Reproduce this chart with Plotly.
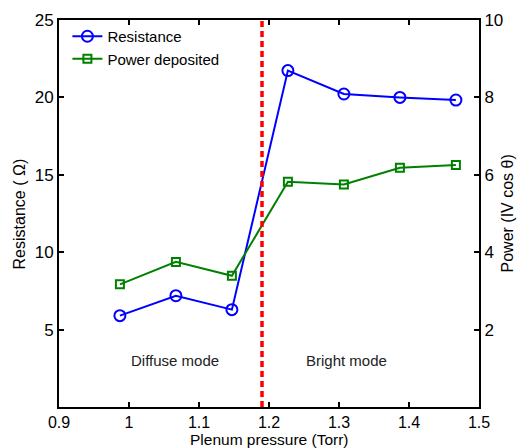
import plotly.graph_objects as go

pressure = [0.987, 1.067, 1.147, 1.227, 1.307, 1.387, 1.467]
resistance = [5.9, 7.19, 6.29, 21.73, 20.22, 20.0, 19.83]
power = [3.17, 3.75, 3.39, 5.82, 5.75, 6.18, 6.25]
transition_pressure = 1.19
mode_labels = ["Diffuse mode", "Bright mode"]
mode_label_x = [1.066, 1.31]
mode_label_y = [3.0, 3.0]

FONT = "Liberation Sans, Arial, sans-serif"

fig = go.Figure()
fig.add_trace(go.Scatter(
    x=pressure, y=resistance, name="Resistance", mode="lines+markers",
    line=dict(color="#0000ff", width=2),
    marker=dict(symbol="circle-open", size=11, color="#0000ff", line=dict(width=2)),
))
fig.add_trace(go.Scatter(
    x=pressure, y=power, name="Power deposited", mode="lines+markers", yaxis="y2",
    line=dict(color="#008000", width=2),
    marker=dict(symbol="square-open", size=8, color="#008000", line=dict(width=2)),
))

fig.add_shape(type="line", xref="x", yref="paper", x0=transition_pressure, x1=transition_pressure,
              y0=0, y1=1, line=dict(color="#ff0000", width=3.5, dash="6px,4px"), layer="above")

for t, xx, yy in zip(mode_labels, mode_label_x, mode_label_y):
    fig.add_annotation(x=xx, y=yy, xref="x", yref="y", text=t, showarrow=False,
                       font=dict(size=15, color="#222222", family=FONT))

# axis titles
title_font = dict(size=16, family=FONT, color="black")
fig.add_annotation(x=-0.093, y=0.5, xref="paper", yref="paper", text="Resistance ( Ω)",
                   textangle=-90, showarrow=False, xanchor="center", yanchor="middle",
                   font=title_font)
fig.add_annotation(x=1.069, y=0.5, xref="paper", yref="paper", text="Power (IV cos θ)",
                   textangle=-90, showarrow=False, xanchor="center", yanchor="middle",
                   font=title_font)
fig.add_annotation(x=0.5, y=-0.0845, xref="paper", yref="paper", text="Plenum pressure (Torr)",
                   showarrow=False, xanchor="center", yanchor="middle", borderpad=0,
                   font=dict(size=15.5, family=FONT, color="black"))

axis_common = dict(showline=True, linecolor="black", linewidth=2, ticks="inside",
                   tickcolor="black", ticklen=5, tickwidth=2, showgrid=False, zeroline=False,
                   automargin=False,
                   tickfont=dict(size=17, color="black", family=FONT))

fig.update_layout(
    width=524, height=448,
    margin=dict(l=59, r=45, t=20, b=41),
    plot_bgcolor="white", paper_bgcolor="white",
    font=dict(family=FONT, color="black"),
    xaxis=dict(range=[0.9, 1.5], tickvals=[0.9, 1.0, 1.1, 1.2, 1.3, 1.4, 1.5],
               ticktext=["0.9", "1", "1.1", "1.2", "1.3", "1.4", "1.5"], mirror="ticks",
               ticklabelstandoff=0, **{**axis_common, "tickfont": dict(size=16, color="black", family=FONT)}),
    yaxis=dict(range=[0, 25], tickvals=[5, 10, 15, 20, 25], **axis_common),
    yaxis2=dict(range=[0, 10], tickvals=[2, 4, 6, 8, 10], overlaying="y", side="right",
                **axis_common),
    legend=dict(x=0.02, y=1.0, xanchor="left", yanchor="top", bgcolor="rgba(0,0,0,0)",
                font=dict(size=15, family=FONT), tracegroupgap=0, itemwidth=30),
    showlegend=True,
)

fig.write_html("out.html", config={"displayModeBar": False},
               post_script="document.body.style.margin='0px';")
